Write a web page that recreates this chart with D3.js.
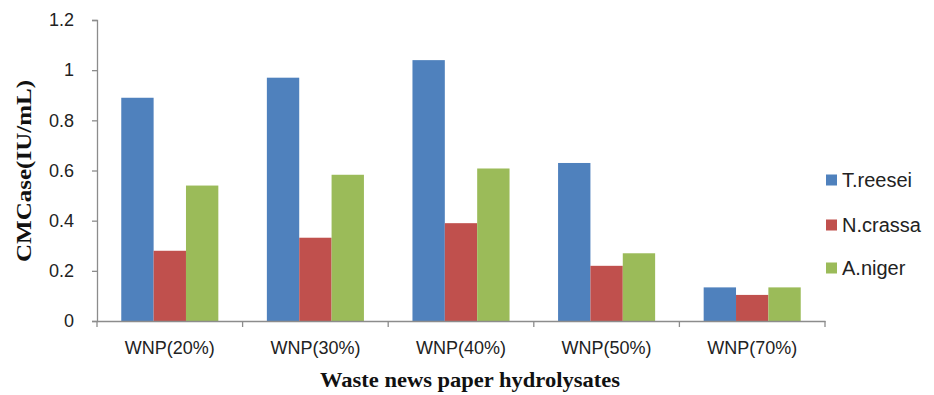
<!DOCTYPE html>
<html>
<head>
<meta charset="utf-8">
<script src="https://cdn.jsdelivr.net/npm/d3@7"></script>
<style>
  html, body { margin: 0; padding: 0; background: #fff; }
  svg { display: block; }
</style>
</head>
<body>
<svg id="chart" width="934" height="395"></svg>
<script>
const categories = ["WNP(20%)", "WNP(30%)", "WNP(40%)", "WNP(50%)", "WNP(70%)"];
const seriesNames = ["T.reesei", "N.crassa", "A.niger"];
const tReesei = [0.89, 0.97, 1.04, 0.63, 0.134];
const nCrassa = [0.28, 0.332, 0.39, 0.22, 0.104];
const aNiger  = [0.54, 0.583, 0.608, 0.27, 0.134];
const seriesValues = [tReesei, nCrassa, aNiger];
const seriesColors = ["#4F81BD", "#C0504D", "#9BBB59"];
const yTicks = [0, 0.2, 0.4, 0.6, 0.8, 1, 1.2];
const yTickLabels = ["0", "0.2", "0.4", "0.6", "0.8", "1", "1.2"];
const xTitle = "Waste news paper hydrolysates";
const yTitle = "CMCase(IU/mL)";

const svg = d3.select("#chart");
const plotLeft = 97, plotRight = 825, plotTop = 20, plotBottom = 321;
const axisColor = "#8c8c8c";
const sansFont = "'Liberation Sans', Arial, sans-serif";
const serifFont = "'Liberation Serif', 'Times New Roman', serif";

const y = d3.scaleLinear().domain([0, 1.2]).range([plotBottom, plotTop]);
const x0 = d3.scaleBand().domain(categories).range([plotLeft, plotRight]).paddingInner(0).paddingOuter(0);
const x1 = d3.scaleBand().domain(seriesNames).range([0, x0.bandwidth()]).paddingInner(0).paddingOuter(0.75);

// bars
const groups = svg.append("g").selectAll("g")
  .data(categories)
  .join("g")
  .attr("transform", d => `translate(${x0(d)},0)`);

groups.selectAll("rect")
  .data((d, i) => seriesNames.map((s, j) => ({ s, v: seriesValues[j][i], c: seriesColors[j] })))
  .join("rect")
  .attr("x", d => x1(d.s))
  .attr("width", x1.bandwidth())
  .attr("y", d => y(d.v))
  .attr("height", d => y(0) - y(d.v))
  .attr("fill", d => d.c);

// y axis
const yAxis = d3.axisLeft(y).tickValues(yTicks)
  .tickFormat((d, i) => yTickLabels[i]).tickSize(5).tickPadding(18);
const gy = svg.append("g").attr("transform", `translate(${plotLeft},0)`).call(yAxis);
gy.select(".domain").attr("stroke", axisColor).attr("stroke-width", 1.3);
gy.selectAll(".tick line").attr("stroke", axisColor).attr("stroke-width", 1.3);
gy.selectAll(".tick text").attr("font-family", sansFont).attr("font-size", 18).attr("fill", "#222");

// x axis
const xAxis = d3.axisBottom(x0).tickSize(0).tickPadding(20);
const gx = svg.append("g").attr("transform", `translate(0,${plotBottom})`).call(xAxis);
gx.select(".domain").attr("stroke", axisColor).attr("stroke-width", 1.3);
gx.selectAll(".tick text").attr("font-family", sansFont).attr("font-size", 18).attr("fill", "#222");
// category boundary tick marks
const bounds = categories.map(c => x0(c)).concat([x0(categories[categories.length - 1]) + x0.bandwidth()]);
gx.append("g").selectAll("line").data(bounds).join("line")
  .attr("x1", d => d).attr("x2", d => d).attr("y1", 0).attr("y2", 6)
  .attr("stroke", axisColor).attr("stroke-width", 1.3);

// titles
svg.append("text")
  .attr("x", (plotLeft + plotRight) / 2 + 9).attr("y", 387)
  .attr("text-anchor", "middle")
  .attr("font-family", serifFont).attr("font-weight", "bold").attr("font-size", 21)
  .attr("textLength", 300).attr("lengthAdjust", "spacingAndGlyphs")
  .attr("fill", "#111")
  .text(xTitle);

svg.append("text")
  .attr("transform", "translate(31,171) rotate(-90)")
  .attr("text-anchor", "middle")
  .attr("font-family", serifFont).attr("font-weight", "bold").attr("font-size", 21)
  .attr("textLength", 182).attr("lengthAdjust", "spacingAndGlyphs")
  .attr("fill", "#111")
  .text(yTitle);

// legend
const legendY = [180, 225, 268];
const legend = svg.append("g").selectAll("g").data(seriesNames).join("g")
  .attr("transform", (d, i) => `translate(826,${legendY[i]})`);
legend.append("rect").attr("x", 0).attr("y", -5.5).attr("width", 11).attr("height", 11)
  .attr("fill", (d, i) => seriesColors[i]);
legend.append("text").attr("x", 16).attr("y", 0).attr("dy", "0.36em")
  .attr("font-family", sansFont).attr("font-size", 20).attr("fill", "#222")
  .text(d => d);
</script>
</body>
</html>
